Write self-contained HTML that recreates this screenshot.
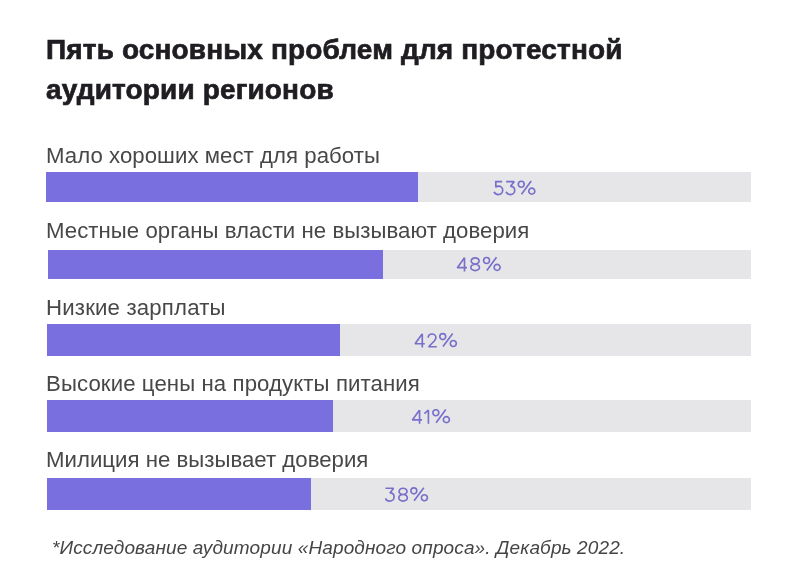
<!DOCTYPE html>
<html><head><meta charset="utf-8">
<style>
html,body{margin:0;padding:0;background:#fff;}
body{width:800px;height:588px;position:relative;overflow:hidden;font-family:"Liberation Sans",sans-serif;}
div{position:absolute;white-space:nowrap;}
.g{will-change:transform;}
.title{font-size:28px;line-height:28px;font-weight:700;color:#1f1d21;left:46px;letter-spacing:0.15px;-webkit-text-stroke:0.7px #1f1d21;}
.lab{font-size:22.2px;line-height:22.2px;color:#474747;}
.track{background:#e6e6e8;}
.fill{background:#7a6fde;}
.foot{font-size:19px;line-height:19px;font-style:italic;color:#454545;left:52px;letter-spacing:0.125px;}
</style></head><body>
<div class="title g" style="top:35.90px">Пять основных проблем для протестной</div>
<div class="title g" style="top:76.30px">аудитории регионов</div>
<div class="track" style="top:172px;height:30px;left:46px;width:705px"></div>
<div class="fill" style="top:172px;height:30px;left:46px;width:372px"></div>
<div class="lab g" style="top:144.81px;left:46px;letter-spacing:0.05px">Мало хороших мест для работы</div>
<div class="track" style="top:249.5px;height:29.2px;left:48px;width:702.5px"></div>
<div class="fill" style="top:249.5px;height:29.2px;left:48px;width:335px"></div>
<div class="lab g" style="top:220.21px;left:46px;letter-spacing:0.05px">Местные органы власти не вызывают доверия</div>
<div class="track" style="top:324px;height:32px;left:47px;width:704px"></div>
<div class="fill" style="top:324px;height:32px;left:47px;width:293px"></div>
<div class="lab g" style="top:296.61px;left:46px;letter-spacing:0.18px">Низкие зарплаты</div>
<div class="track" style="top:400px;height:32px;left:47px;width:704px"></div>
<div class="fill" style="top:400px;height:32px;left:47px;width:286px"></div>
<div class="lab g" style="top:372.91px;left:46px;letter-spacing:0.1px">Высокие цены на продукты питания</div>
<div class="track" style="top:478px;height:32px;left:47px;width:704px"></div>
<div class="fill" style="top:478px;height:32px;left:47px;width:264px"></div>
<div class="lab g" style="top:449.21px;left:46px;letter-spacing:0.02px">Милиция не вызывает доверия</div>
<svg width="800" height="588" viewBox="0 0 800 588" style="position:absolute;left:0;top:0" fill="none" stroke="#786fca" stroke-width="1.65" stroke-miterlimit="2">

<path transform="translate(493.2 180.8)" d="M8.9 0.85H2.6V6.4C3.4 5.6 4.3 5.3 5.3 5.3C7.7 5.3 9.5 7.1 9.5 9.5C9.5 12 7.6 13.75 5 13.75C3 13.75 1.5 12.6 0.85 11.1"/><path transform="translate(505.2 180.8)" d="M0.9 0.85H9L5.3 5.5C7.8 5.5 9.5 7.2 9.5 9.6C9.5 12 7.6 13.75 5.1 13.75C3.1 13.75 1.5 12.6 0.85 11"/><path transform="translate(517.6 180.8)" d="M3.65 0.45A2.95 3 0 1 1 3.65 6.45A2.95 3 0 1 1 3.65 0.45ZM14.2 7.35A3 3 0 1 1 14.2 13.35A3 3 0 1 1 14.2 7.35ZM3.9 13.4L13.6 0.3"/>
<path transform="translate(456.7 257.0)" d="M7.8 14.5V0.6M7.6 0.9L0.6 10.65H10.3"/><path transform="translate(470.0 257.0)" d="M5.15 0.850A3.95 3.125 0 1 1 5.15 7.100A3.95 3.125 0 1 1 5.15 0.850ZM5.15 7.100A4.3 3.275 0 1 1 5.15 13.650A4.3 3.275 0 1 1 5.15 7.100Z"/><path transform="translate(482.9 257.0)" d="M3.65 0.45A2.95 3 0 1 1 3.65 6.45A2.95 3 0 1 1 3.65 0.45ZM14.2 7.35A3 3 0 1 1 14.2 13.35A3 3 0 1 1 14.2 7.35ZM3.9 13.4L13.6 0.3"/>
<path transform="translate(414.5 333.1)" d="M7.8 14.5V0.6M7.6 0.9L0.6 10.65H10.3"/><path transform="translate(427.3 333.1)" d="M0.9 4.6C0.9 2.3 2.6 0.85 4.75 0.85C6.9 0.85 8.6 2.4 8.6 4.5C8.6 5.9 8 6.8 7 7.9L1.3 13.65H9.5"/><path transform="translate(439.1 333.1)" d="M3.65 0.45A2.95 3 0 1 1 3.65 6.45A2.95 3 0 1 1 3.65 0.45ZM14.2 7.35A3 3 0 1 1 14.2 13.35A3 3 0 1 1 14.2 7.35ZM3.9 13.4L13.6 0.3"/>
<path transform="translate(411.75 409.3)" d="M7.8 14.5V0.6M7.6 0.9L0.6 10.65H10.3"/><path transform="translate(424.0 409.3)" d="M0.4 4.3L4.4 0.85V14.5"/><path transform="translate(432.2 409.3)" d="M3.65 0.45A2.95 3 0 1 1 3.65 6.45A2.95 3 0 1 1 3.65 0.45ZM14.2 7.35A3 3 0 1 1 14.2 13.35A3 3 0 1 1 14.2 7.35ZM3.9 13.4L13.6 0.3"/>
<path transform="translate(384.6 487.4)" d="M0.9 0.85H9L5.3 5.5C7.8 5.5 9.5 7.2 9.5 9.6C9.5 12 7.6 13.75 5.1 13.75C3.1 13.75 1.5 12.6 0.85 11"/><path transform="translate(397.9 487.4)" d="M5.15 0.850A3.95 3.125 0 1 1 5.15 7.100A3.95 3.125 0 1 1 5.15 0.850ZM5.15 7.100A4.3 3.275 0 1 1 5.15 13.650A4.3 3.275 0 1 1 5.15 7.100Z"/><path transform="translate(410.2 487.4)" d="M3.65 0.45A2.95 3 0 1 1 3.65 6.45A2.95 3 0 1 1 3.65 0.45ZM14.2 7.35A3 3 0 1 1 14.2 13.35A3 3 0 1 1 14.2 7.35ZM3.9 13.4L13.6 0.3"/>
</svg>
<div class="foot g" style="top:537.92px">*Исследование аудитории «Народного опроса». Декабрь 2022.</div>
</body></html>
